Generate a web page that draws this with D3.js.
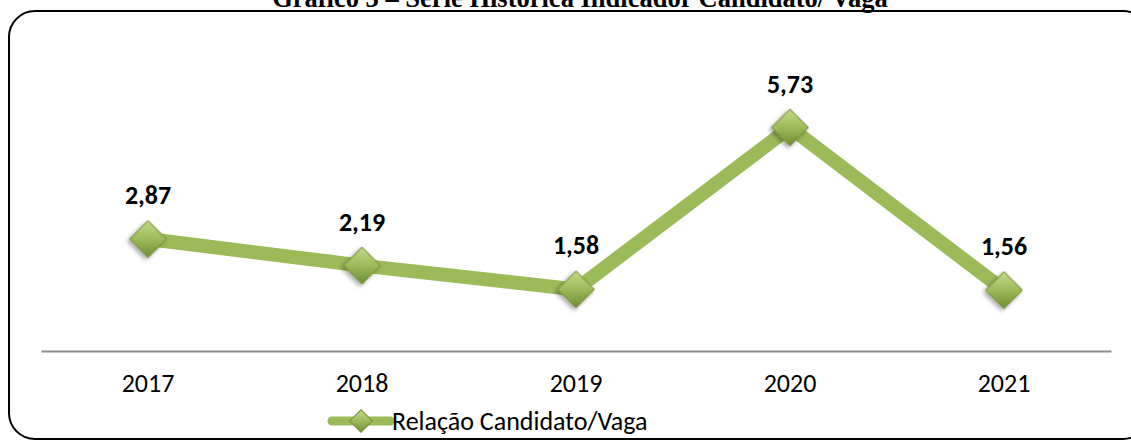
<!DOCTYPE html>
<html><head><meta charset="utf-8">
<script src="https://cdn.jsdelivr.net/npm/d3@7"></script>
<style>body{margin:0;background:#fff;}svg{display:block;}</style>
</head><body>
<script>
const categories = ["2017","2018","2019","2020","2021"];
const values = [2.87, 2.19, 1.58, 5.73, 1.56];
const labels = ["2,87","2,19","1,58","5,73","1,56"];
const seriesName = "Relação Candidato/Vaga";
const title = "Gráfico 3 – Série Histórica Indicador Candidato/ Vaga";

const W = 1131, H = 442;
const svg = d3.select("body").append("svg").attr("width", W).attr("height", H);
const defs = svg.append("defs");
const g1 = defs.append("linearGradient").attr("id","dg").attr("x1","0").attr("y1","0").attr("x2","1").attr("y2","1");
g1.append("stop").attr("offset","0").attr("stop-color","#c2db86");
g1.append("stop").attr("offset","0.5").attr("stop-color","#9bbb59");
g1.append("stop").attr("offset","1").attr("stop-color","#6f8e34");
const f = defs.append("filter").attr("id","sh").attr("x","-50%").attr("y","-50%").attr("width","200%").attr("height","200%");
f.append("feDropShadow").attr("dx",0).attr("dy",3).attr("stdDeviation",2).attr("flood-color","#000").attr("flood-opacity",0.35);

const font = "Carlito, Calibri, Open Sans, Liberation Sans, sans-serif";

// title (clipped at top, as in the reference)
svg.append("text").attr("x", 580).attr("y", 7).attr("text-anchor","middle")
  .attr("font-family","Liberation Serif, Times New Roman, serif").attr("font-weight","bold")
  .attr("font-size", 26.5).text(title);

// frame
svg.append("rect").attr("x", 9).attr("y", 11).attr("width", 1140).attr("height", 428)
  .attr("rx", 26).attr("ry", 26).attr("fill","none").attr("stroke","#000").attr("stroke-width",2);

const x = d3.scaleBand().domain(categories).range([41, 1111]);
const y = d3.scaleLinear().domain([0, 7]).range([351, 78]);

const xAxis = svg.append("g").attr("transform","translate(0,351)")
  .call(d3.axisBottom(x).tickSize(0).tickPadding(23));
xAxis.select(".domain").attr("stroke","#8c8c8c").attr("stroke-width",2);
xAxis.selectAll("text").attr("font-family",font)
  .attr("font-size",26).attr("fill","#000");

const cx = d => x(d) + x.bandwidth()/2;
const data = categories.map((c,i)=>({c, v: values[i], l: labels[i]}));

svg.append("path").datum(data)
  .attr("d", d3.line().x(d=>cx(d.c)).y(d=>y(d.v)))
  .attr("fill","none").attr("stroke","#9bbb59").attr("stroke-width",14).attr("stroke-linejoin","miter");

const diamond = d3.symbol().type(d3.symbolSquare).size(26*26);
svg.selectAll(".mk").data(data).enter().append("path")
  .attr("d", diamond).attr("transform", d=>`translate(${cx(d.c)},${y(d.v)}) rotate(45)`)
  .attr("fill","url(#dg)").attr("stroke","#768f3f").attr("stroke-width",1).attr("filter","url(#sh)");

svg.selectAll(".lbl").data(data).enter().append("text")
  .attr("x", d=>cx(d.c)).attr("y", d=>y(d.v)-35).attr("text-anchor","middle")
  .attr("font-family",font).attr("font-weight","bold")
  .attr("font-size",26).attr("fill","#000").text(d=>d.l);

// legend
const lg = svg.append("g").attr("transform","translate(330,421)");
lg.append("line").attr("x1",2).attr("x2",60).attr("y1",0).attr("y2",0)
  .attr("stroke","#9bbb59").attr("stroke-width",9).attr("stroke-linecap","round");
lg.append("path").attr("d", d3.symbol().type(d3.symbolSquare).size(16*16))
  .attr("transform","translate(31,0) rotate(45)").attr("fill","url(#dg)").attr("stroke","#768f3f").attr("stroke-width",1);
lg.append("text").attr("x",62).attr("y",9).attr("font-family",font)
  .attr("font-size",26).attr("fill","#000").text(seriesName);
</script>
</body></html>
